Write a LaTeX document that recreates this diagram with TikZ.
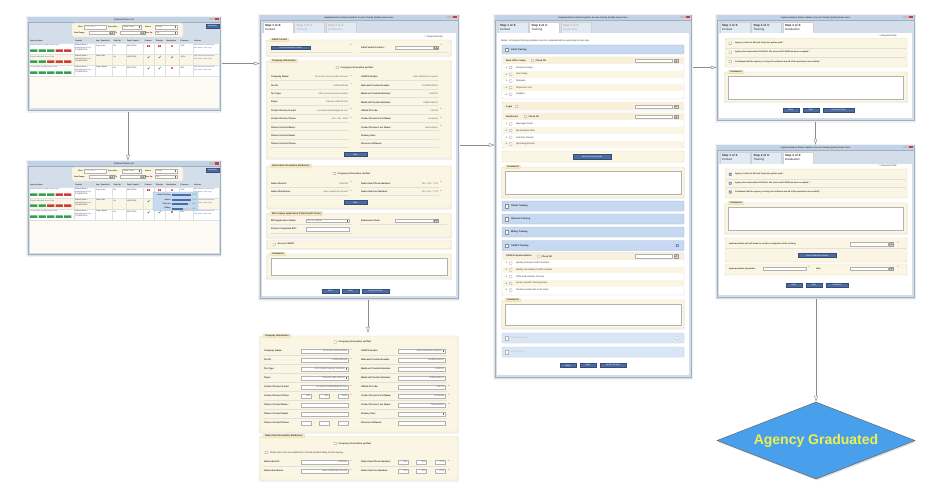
\documentclass[tikz,border=0pt]{standalone}
\usepackage{fontspec}
\setmainfont{Liberation Sans}
\usetikzlibrary{arrows.meta,fit,shapes.geometric,shadows}

\definecolor{frameC}{HTML}{D3DEEA}
\definecolor{frameD}{HTML}{9EAFC2}
\definecolor{titleC}{HTML}{C2D3E8}
\definecolor{creamC}{HTML}{FBF6E4}
\definecolor{creamD}{HTML}{E6DAB0}
\definecolor{legC}{HTML}{F6EBC8}
\definecolor{hrowC}{HTML}{F8F0DA}
\definecolor{btnC}{HTML}{4C6CA6}
\definecolor{barC}{HTML}{C6D9F1}
\definecolor{barD}{HTML}{9BB6DB}
\definecolor{reqC}{HTML}{D62020}
\definecolor{linkC}{HTML}{4A63B5}
\definecolor{okC}{HTML}{37A050}
\definecolor{badC}{HTML}{CF3B3B}
\definecolor{diaC}{HTML}{48A0EC}
\definecolor{diaT}{HTML}{F3EF4B}
\definecolor{tabC}{HTML}{E2EAF4}
\definecolor{hdrC}{HTML}{D3DDE9}

\tikzset{
 tx/.style={inner sep=0pt, outer sep=0pt, font=\fontsize{2.3}{2.6}\selectfont, text=black!80},
 lt/.style={tx, anchor=west},
 lb/.style={tx, anchor=west, font=\fontsize{2.3}{2.6}\selectfont\bfseries},
 lbs/.style={tx, anchor=west, font=\fontsize{2.1}{2.4}\selectfont\bfseries},
 ls/.style={tx, anchor=west, font=\fontsize{1.9}{2.2}\selectfont},
 lsb/.style={tx, anchor=west, font=\fontsize{1.9}{2.2}\selectfont\bfseries},
 lact/.style={tx, anchor=west, font=\fontsize{1.7}{2}\selectfont, text=linkC},
 vl/.style={tx, anchor=east, text=black!65, font=\fontsize{2.2}{2.5}\selectfont},
 sv/.style={tx, anchor=west, text=black!65, font=\fontsize{2.1}{2.4}\selectfont},
 rq/.style={tx, text=reqC, font=\fontsize{3.2}{3.2}\selectfont},
 sec/.style={draw=creamD, fill=creamC, rounded corners=1pt, line width=0.4pt},
 wbox/.style={draw=black!18, fill=white, rounded corners=1pt, line width=0.4pt},
 lgd/.style={tx, anchor=west, draw=creamD, fill=legC, rounded corners=0.8pt, inner xsep=2pt, inner ysep=0.8pt, font=\fontsize{2.3}{2.6}\selectfont\bfseries},
 inb/.style={draw=black!30, fill=white, line width=0.3pt},
 cbx/.style={draw=black!45, fill=white, line width=0.3pt, rounded corners=0.3pt},
 btnbox/.style={draw=btnC!70!black, fill=btnC, line width=0.3pt},
 btntx/.style={tx, text=white, font=\fontsize{2.1}{2.4}\selectfont},
 sepl/.style={draw=black!12, line width=0.3pt},
 arr/.style={draw=black!45, line width=0.45pt, shorten <=1.5pt, -{Triangle[open, length=6pt, width=3.6pt]}},
 dia/.style={diamond, aspect=2.571, draw=black!60, line width=0.5pt, fill=diaC, minimum width=198pt, minimum height=77pt, inner sep=0pt, text=diaT, font=\fontsize{14}{16}\selectfont\bfseries, drop shadow={opacity=0.25, shadow xshift=1pt, shadow yshift=-1.5pt}},
}

\newcommand\dgst{\textcolor{reqC}{\,*}}
\newcommand\dgreq[2]{\node[rq] at (#1,#2) {*};}
\newcommand\dgcb[2]{\draw[cbx] (#1,{#2-1.2}) rectangle ({#1+2.4},{#2+1.2});}
\newcommand\dgcbk[2]{\draw[draw=btnC, fill=barD!60!blue, line width=0.3pt, rounded corners=0.3pt] (#1,{#2-1.2}) rectangle ({#1+2.4},{#2+1.2});
 \draw[white, line width=0.35pt] ({#1+0.5},{#2}) -- ({#1+1},{#2+0.6}) -- ({#1+1.9},{#2-0.7});}
\newcommand\dgcal[2]{\draw[draw=black!40, fill=black!15, line width=0.3pt] (#1,#2) rectangle ({#1+4},{#2+3.6});
 \draw[black!40, line width=0.2pt] ({#1+0.8},{#2+1.8}) -- ({#1+3.2},{#2+1.8}) ({#1+2},{#2+0.8}) -- ({#1+2},{#2+2.8});}
\newcommand\dgbtn[5]{\draw[btnbox] (#1,#2) rectangle (#3,#4); \node[btntx] at ({(#1+#3)/2},{(#2+#4)/2}) {#5};}
\newcommand\dgin[4]{\draw[inb] (#1,{#3-1.8}) rectangle (#2,{#3+1.8}); \node[vl] at ({#2-1},#3) {#4};}
\newcommand\dgsel[4]{\draw[inb] (#1,{#3-1.8}) rectangle (#2,{#3+1.8}); \node[vl] at ({#2-3.5},#3) {#4};
 \fill[black!60] ({#2-2.3},{#3-1}) rectangle ({#2-1.3},{#3+1});}
\newcommand\dgselL[4]{\draw[inb] (#1,{#3-1.8}) rectangle (#2,{#3+1.8}); \node[sv] at ({#1+1.5},#3) {#4};
 \fill[black!60] ({#2-2.3},{#3-1}) rectangle ({#2-1.3},{#3+1});}
\newcommand\dgtrip[5]{\dgin{#1}{#1+10}{#2}{#3}\node[tx] at ({#1+13.5},#2) {-};
 \dgin{#1+18.5}{#1+28.5}{#2}{#4}\node[tx] at ({#1+32.5},#2) {-};
 \dgin{#1+37}{#1+47}{#2}{#5}}
\newcommand\dgsec[5]{\fill[black,opacity=0.05] ({#1-0.8},{#2+0.5}) rectangle ({#3+0.8},{#4+1.5});
 \draw[sec] (#1,#2) rectangle (#3,#4); \node[lgd] at ({#1+3},#2) {#5};}
\newcommand\dgbox[4]{\draw[sec] (#1,#2) rectangle (#3,#4);}
\newcommand\dgfr[5]{\node[lb] at (#1,#3) {#4}; \node[vl] at (#2,#3) {#5};
 \draw[sepl] ({#1-1},{#3+3.3}) -- ({#2+1},{#3+3.3});}
\newcommand\dglab[3]{\node[lb] at (#1,#2) {#3};}
\newcommand\dgtab[6]{\draw[draw=black!18, fill=#3, line width=0.3pt] (#1,{#2+18.5}) -- (#1,{#2+7}) -- ({#1+30},{#2+7}) -- ({#1+30},{#2+18.5});
 \node[lt, font=\fontsize{3}{3.4}\selectfont\bfseries, text=#4] at ({#1+2},{#2+10.7}) {#5};
 \node[lt, font=\fontsize{3}{3.4}\selectfont, text=#4] at ({#1+2},{#2+14.6}) {#6};}
\newcommand\dgwin[6]{%
 \fill[black, opacity=0.05] ({#2-2},{#3-1}) rectangle ({#4+2},{#5+3});
 \fill[black, opacity=0.08] ({#2-1},{#3}) rectangle ({#4+1},{#5+1.5});
 \draw[draw=frameD, fill=frameC, line width=0.4pt] (#2,#3) rectangle (#4,#5);
 \fill[titleC] (#2,#3) rectangle (#4,{#3+5});
 \draw[frameD, line width=0.3pt] (#2,{#3+5}) -- (#4,{#3+5});
 \node[tx, font=\fontsize{2.2}{2.4}\selectfont\bfseries, text=black!75] at ({(#2+#4)/2},{#3+2.5}) {#6};
 \fill[black!25] ({#4-11},{#3+1.3}) rectangle ({#4-8.5},{#3+3.5});
 \fill[black!25] ({#4-8},{#3+1.3}) rectangle ({#4-5.5},{#3+3.5});
 \fill[badC] ({#4-5},{#3+1.3}) rectangle ({#4-1.5},{#3+3.5});
 \node[fit={(#2,#3) (#4,#5)}, inner sep=0pt] (#1) {};}
\newcommand\dgitem[3]{\node[lt] at (505.5,#1) {#2.}; \dgcb{509.5}{#1} \node[lt] at (516,#1) {#3};}
\newcommand\dgbar[4]{\draw[draw=barD, fill=barC, rounded corners=0.8pt, line width=0.4pt] (502,#1) rectangle (684,#2);
 \draw[draw=black!45, fill=white, line width=0.3pt] (505,{(#1+#2)/2-1.7}) rectangle (508,{(#1+#2)/2+1.7});
 \node[lb, text=#4] at (511,{(#1+#2)/2}) {#3};}
\newcommand\dgok[2]{\draw[okC, line width=0.5pt] ({#1-1},{#2}) -- ({#1-0.2},{#2+0.9}) -- ({#1+1.2},{#2-1.2});}
\newcommand\dgno[2]{\fill[badC] ({#1-1.1},{#2-1.1}) rectangle ({#1+1.1},{#2+1.1});
 \draw[white, line width=0.3pt] ({#1-0.6},{#2-0.6}) -- ({#1+0.6},{#2+0.6}) ({#1-0.6},{#2+0.6}) -- ({#1+0.6},{#2-0.6});}
\newcommand\dgbtns[6]{\foreach \cc [count=\ii from 0] in {#2,#3,#4,#5,#6} {\fill[\cc, rounded corners=0.4pt] ({30+8.5*\ii},{#1+6.3}) rectangle ({37.3+8.5*\ii},{#1+8.9});}}
\newcommand\dgrow[5]{%
 \node[ls, text=linkC] at (30,{#1+2.5}) {#2};
 \node[ls] at (75,{#1+2}) {Patient Name /};
 \node[ls, text=linkC] at (75,{#1+4.7}) {patient@gmail.com};
 \node[ls] at (75,{#1+7.4}) {(713)805-4530};
 \node[ls] at (96,{#1+2.5}) {#3};
 \node[ls] at (113.5,{#1+2.5}) {No};
 \node[ls] at (127,{#1+2.5}) {#4};
 \node[ls] at (180.5,{#1+2.5}) {#5};
 \node[lact] at (194,{#1+2.5}) {Edit | Passwrd | Add Notes |};
 \node[lact] at (194,{#1+5}) {View Notes | View Logs};}
\newcommand\dglist[2]{%
 \dgwin{#1}{28}{#2}{220}{#2+93}{Referral Client List}
 \fill[white] (29.5,{#2+21.5}) rectangle (218.5,{#2+91.5});
 \fill[creamC!45] (29.5,{#2+59}) rectangle (218.5,{#2+91.5});
 \fill[creamC] (29.5,{#2+37}) rectangle (218.5,{#2+48});
 \fill[hdrC] (29.5,{#2+21.5}) rectangle (218.5,{#2+26});
 \foreach \xx in {74,95,112,126,143,154,165,179,193} {\draw[sepl] (\xx,{#2+21.5}) -- (\xx,{#2+59});}
 \foreach \yy in {26,37,48,59} {\draw[sepl] (29.5,{#2+\yy}) -- (218.5,{#2+\yy});}
 \draw[sec] (72,{#2+6}) rectangle (183,{#2+20});
 \node[lsb] at (78,{#2+10}) {Filter:};
 \draw[inb] (84,{#2+8.3}) rectangle (106,{#2+11.7});
 \node[ls, text=black!35] at (85.5,{#2+10}) {Filter Name};
 \node[lsb] at (108,{#2+10}) {Specialist:};
 \dgselL{122}{141}{#2+10}{Select User}
 \node[lsb] at (145,{#2+10}) {Status:};
 \dgselL{155}{177}{#2+10}{Active}
 \node[lsb] at (74,{#2+15.7}) {Date Range:};
 \draw[inb] (89,{#2+14}) rectangle (109,{#2+17.4});
 \dgcal{110}{#2+13.9}
 \node[lsb] at (115,{#2+15.7}) {To};
 \draw[inb] (120,{#2+14}) rectangle (140,{#2+17.4});
 \dgcal{141}{#2+13.9}
 \node[lsb] at (145,{#2+15.7}) {Start Up:};
 \dgselL{155}{177}{#2+15.7}{No}
 \dgbtn{206}{#2+7}{219}{#2+11}{Generate}
 \node[lsb] at (30,{#2+23.8}) {Agency Name};
 \node[lsb] at (75,{#2+23.8}) {Contact};
 \node[lsb] at (96,{#2+23.8}) {Imp. Specialist};
 \node[lsb] at (113.5,{#2+23.8}) {Start Up};
 \node[lsb] at (127,{#2+23.8}) {Date Created};
 \node[lsb] at (144.5,{#2+23.8}) {Contact};
 \node[lsb] at (155.5,{#2+23.8}) {Training};
 \node[lsb] at (166,{#2+23.8}) {Graduation};
 \node[lsb] at (180.5,{#2+23.8}) {Progress};
 \node[lsb] at (194,{#2+23.8}) {Actions};
 \dgrow{#2+26}{Access Family Quality Home Care}{John Smith}{06/21/2016}{10\%}
 \dgrow{#2+37}{Texas Dedicated Home Care}{Peter Gray}{06/20/2016}{100\%}
 \dgrow{#2+48}{Access Main Quality Home Care}{Greg Lawson}{06/21/2016}{80\%}
 \dgbtns{#2+26}{okC}{okC}{okC}{badC}{badC}
 \dgbtns{#2+37}{okC}{okC}{badC}{badC}{badC}
 \dgbtns{#2+48}{okC}{okC}{okC}{okC}{okC}
 \dgno{148.5}{#2+29}\dgno{159.5}{#2+29}\dgno{172}{#2+29}
 \dgok{148.5}{#2+40}\dgok{159.5}{#2+40}\dgok{172}{#2+40}
 \dgok{148.5}{#2+51}\dgok{159.5}{#2+51}\dgno{172}{#2+51}}

\begin{document}
\begin{tikzpicture}[x=1pt,y=-1pt]
\useasboundingbox (0,0) rectangle (934,500);
\fill[white] (0,0) rectangle (934,500);

% ===== client lists =====
\dglist{wA}{17}
\dglist{wB}{161}
\draw[draw=barD, fill=barC, rounded corners=0.8pt, line width=0.4pt] (153,192) rectangle (198,210.5);
\foreach \yy/\lab/\fr/\pc in {195/Initial Training/1/100\%, 199.5/Admin/1/100\%, 204/Clinician/0.85/85\%, 208.5/Billing/0.6/60\%} {
 \node[lsb, anchor=east] at (170.5,\yy) {\lab};
 \fill[black!20] (172,{\yy-1}) rectangle (191,{\yy+1});
 \fill[btnC] (172,{\yy-1}) rectangle ({172+19*\fr},{\yy+1});
 \node[ls, text=okC] at (192.3,\yy) {\pc};
}

% ===== step 1 window =====
\dgwin{wC}{260}{15}{458}{298}{Implementation Status Update | Access Family Quality Home Care}
\fill[white] (262,33.5) rectangle (456,296);
\dgtab{263}{15}{white}{black!85}{Step 1 of 3:}{Contact}
\dgtab{294.5}{15}{tabC}{black!30}{Step 2 of 3:}{Training}
\dgtab{326}{15}{tabC}{black!30}{Step 3 of 3:}{Graduation}
\node[lt] at (424,37) {\textcolor{reqC}{*} = Required Field};
\dgsec{267}{40}{451}{56}{Initial Contact}
\dgbtn{271}{45.8}{310}{49.6}{Send Introduction Letter}
\draw[sepl] (270,52.5) -- (352,52.5);
\dgreq{351}{45.5}
\dglab{361}{47.7}{Initial Verbal Contact:}
\draw[inb] (395,45.9) rectangle (433,49.5);
\dgcal{434.5}{45.9}
\dgreq{441.5}{45}
\draw[sepl] (360,52.5) -- (447,52.5);
\dgsec{267}{61}{451}{158}{Company Information}
\dgcb{336}{67.5}
\dglab{340.5}{67.5}{Company information verified}
\dgfr{271}{348}{77}{Company Name:}{1st Access Home Health Services}\dgreq{351}{76}
\dgfr{271}{348}{85.5}{Tax ID:}{100029393456}\dgreq{351}{84.5}
\dgfr{271}{348}{94}{Tax Type:}{SSN (Social Security Number)}
\dgfr{271}{348}{102.3}{Payor:}{Palmetto GBA (11001)}
\dgfr{271}{348}{110.7}{Contact Person E-mail:}{accesshomehealth@gmail.com}\dgreq{351}{109.7}
\dgfr{271}{348}{119}{Contact Person Phone:}{400 - 450 - 5600}\dgreq{351}{118}
\dgfr{271}{348}{127.3}{Trainer Contact Name:}{}
\dgfr{271}{348}{135.7}{Trainer Contact Email:}{}
\dgfr{271}{348}{144}{Trainer Contact Phone:}{}
\dgfr{361}{438}{77}{CAHPS Vendor:}{Deta Satisfaction Experts}
\dgfr{361}{438}{85.5}{National Provider Number:}{1003950004567}
\dgfr{361}{438}{94}{Medicare Provider Number:}{0625000}
\dgfr{361}{438}{102.3}{Medicaid Provider Number:}{909800434100}
\dgfr{361}{438}{110.7}{OASIS ID Code:}{015730}\dgreq{441}{109.7}
\dgfr{361}{438}{119}{Contact Person First Name:}{Annabelle}\dgreq{441}{118}
\dgfr{361}{438}{127.3}{Contact Person Last Name:}{Administrator}\dgreq{441}{126.3}
\dgfr{361}{438}{135.7}{Primary User:}{}
\dgfr{361}{438}{144}{Previous Software:}{}
\dgbtn{344}{152.3}{367}{156.3}{Edit}
\dgsec{267}{166}{451}{208}{Subscriber Information (Medicare)}
\dgcb{333}{173.5}
\dglab{337.5}{173.5}{Company information verified}
\dgfr{271}{348}{183.5}{Subscriber ID:}{0402450}\dgreq{351}{182.5}
\dgfr{271}{348}{192}{Subscriber Name:}{Avee Healthcare Consult}\dgreq{351}{191}
\dgfr{361}{438}{183.5}{Subscriber Phone Number:}{214 - 876 - 7711}\dgreq{441}{182.5}
\dgfr{361}{438}{192}{Subscriber Fax Number:}{214 - 876 - 7722}\dgreq{441}{191}
\dgbtn{344}{200.3}{367}{204.3}{Edit}
\dgsec{267}{213.5}{451}{237}{EDI Linkage Application (Filled by EDI Team)}
\dglab{271}{220.5}{EDI Application Status:}
\dgselL{306}{349}{220.5}{Not Yet Started}
\dglab{271}{229}{Person Completed EDI:}
\dgin{306}{349}{229}{}
\dglab{361}{220.5}{Submission Date:}
\dgin{395}{433}{220.5}{}
\dgcal{434.5}{218.7}
\draw[sepl] (270,224.5) -- (352,224.5);
\draw[sepl] (270,233) -- (352,233);
\draw[sepl] (360,224.5) -- (447,224.5);
\fill[black,opacity=0.05] (266.2,240.5) rectangle (451.8,250);
\dgbox{267}{240}{451}{248.5}
\dgcb{273}{244.2}
\dglab{277.5}{244.2}{Access CAHPS}
\dgsec{267}{254}{451}{278}{Comments}
\draw[inb] (271,258.5) rectangle (447,275);
\dgbtn{322}{289}{339}{293}{Back}
\dgbtn{342}{289}{359}{293}{Save}
\dgbtn{362}{289}{389}{293}{Verify and Next}

% ===== editable company panel =====
\dgsec{260}{336}{458}{432}{Company Information}
\dgcb{334}{342}
\dglab{338.5}{342}{Company information verified}
\foreach \yy in {354.8,363.8,372.8,381.8,390.8,399.8,408.8,417.8} {\draw[sepl] (263,\yy) -- (350,\yy); \draw[sepl] (360,\yy) -- (447,\yy);}
\dglab{264}{351}{Company Name:}\dgin{301}{348}{351}{1st Access Home Health}\dgreq{351}{350}
\dglab{264}{360}{Tax ID:}\dgin{301}{348}{360}{100029393456}\dgreq{351}{359}
\dglab{264}{369}{Tax Type:}\dgsel{301}{348}{369}{SSN (Social Security Number)}
\dglab{264}{378}{Payor:}\dgsel{301}{348}{378}{Palmetto GBA (11001)}
\dglab{264}{387}{Contact Person E-mail:}\dgin{301}{348}{387}{accesshomehealth@gmail.com}\dgreq{351}{386}
\dglab{264}{396}{Contact Person Phone:}\dgtrip{301}{396}{400}{450}{5600}\dgreq{351}{395}
\dglab{264}{405}{Trainer Contact Name:}\dgin{301}{348}{405}{}
\dglab{264}{414}{Trainer Contact Email:}\dgin{301}{348}{414}{}
\dglab{264}{423}{Trainer Contact Phone:}\dgtrip{301}{423}{}{}{}
\dglab{361}{351}{CAHPS Vendor:}\dgsel{398}{445}{351}{Deta Satisfaction Experts}
\dglab{361}{360}{National Provider Number:}\dgin{398}{445}{360}{1003950004567}
\dglab{361}{369}{Medicare Provider Number:}\dgin{398}{445}{369}{0625000}
\dglab{361}{378}{Medicaid Provider Number:}\dgin{398}{445}{378}{909800434100}
\dglab{361}{387}{OASIS ID Code:}\dgin{398}{445}{387}{015730}\dgreq{449}{386}
\dglab{361}{396}{Contact Person First Name:}\dgin{398}{445}{396}{Annabelle}\dgreq{449}{395}
\dglab{361}{405}{Contact Person Last Name:}\dgin{398}{445}{405}{Administrator}\dgreq{449}{404}
\dglab{361}{414}{Primary User:}\dgsel{398}{445}{414}{}
\dglab{361}{423}{Previous Software:}\dgin{398}{445}{423}{}
\dgsec{260}{436}{458}{480}{Subscriber Information (Medicare)}
\dgcb{334}{443.5}
\dglab{338.5}{443.5}{Company information verified}
\dgcb{265}{452.5}
\node[lt] at (270,452.5) {Check here if Access HealthCare Consult handles billing for this Agency};
\draw[sepl] (263,465.8) -- (350,465.8);
\draw[sepl] (360,465.8) -- (447,465.8);
\dglab{264}{462}{Subscriber ID:}\dgin{301}{348}{462}{0402450}\dgreq{351}{461}
\dglab{264}{471}{Subscriber Name:}\dgin{301}{348}{471}{Avee Healthcare Consult}\dgreq{351}{470}
\dglab{361}{462}{Subscriber Phone Number:}\dgtrip{398}{462}{214}{876}{7711}\dgreq{449}{461}
\dglab{361}{471}{Subscriber Fax Number:}\dgtrip{398}{471}{214}{876}{7722}\dgreq{449}{470}
\node[fit={(260,333) (458,480)}, inner sep=0pt] (pD) {};

% ===== step 2 window =====
\dgwin{wE}{495}{15}{691}{377}{Implementation Status Update | Access Family Quality Home Care}
\fill[white] (497,33.5) rectangle (689,375);
\dgtab{498}{15}{tabC}{black!85}{Step 1 of 3:}{Contact}
\dgtab{529.5}{15}{white}{black!85}{Step 2 of 3:}{Training}
\dgtab{561}{15}{tabC}{black!30}{Step 3 of 3:}{Graduation}
\node[lt] at (501,41) {Notice: All required training modules must be completed before advancing to next step.};
\dgbar{45}{54}{Initial Training}{black!85}
\draw[wbox] (502,57) rectangle (684,99);
\fill[hrowC] (502.5,57.5) rectangle (683.5,64);
\fill[creamC] (502.5,71) rectangle (683.5,77.7);
\fill[creamC] (502.5,84.3) rectangle (683.5,91);
\dglab{506}{60.7}{Back Office Setup}
\dgcb{531.5}{60.7}
\dglab{535.5}{60.7}{Check All}
\dgin{635}{672}{60.7}{}
\dgcal{674}{58.9}
\dgitem{67.5}{1}{Insurance Setup}
\dgitem{74.3}{2}{User Setup}
\dgitem{81}{3}{Template}
\dgitem{87.7}{4}{Physician's List}
\dgitem{94.3}{5}{Supplies}
\draw[wbox] (502,102) rectangle (684,111);
\fill[hrowC] (502.5,102.5) rectangle (683.5,110.5);
\dglab{506}{106.5}{Login}
\dgcb{515.5}{106.5}
\dgin{635}{672}{106.5}{}
\dgcal{674}{104.7}
\draw[wbox] (502,113) rectangle (684,148);
\fill[hrowC] (502.5,113.5) rectangle (683.5,120);
\fill[creamC] (502.5,127.3) rectangle (683.5,134);
\fill[creamC] (502.5,140.6) rectangle (683.5,147.5);
\dglab{506}{116.7}{Dashboard}
\dgcb{524.5}{116.7}
\dglab{528.5}{116.7}{Check All}
\dgin{635}{672}{116.7}{}
\dgcal{674}{114.9}
\dgitem{124}{1}{Message Center}
\dgitem{130.7}{2}{My Schedule Task}
\dgitem{137.3}{3}{Past Due Record}
\dgitem{144}{4}{Upcoming Record}
\dgbox{502}{151}{684}{162}
\dgbtn{573}{154.3}{611}{158.7}{Send Follow-up Email}
\dgsec{502}{167}{684}{197}{Comments}
\draw[inb] (505,171) rectangle (681,194);
\dgbar{201}{211}{Admin Training}{black!85}
\dgbar{214}{224}{Clinician Training}{black!85}
\dgbar{227}{237}{Billing Training}{black!85}
\dgbar{240.5}{250.5}{CAHPS Training}{black!85}
\dgcbk{676}{245.5}
\draw[wbox] (502,252.5) rectangle (684,295);
\fill[hrowC] (502.5,253) rectangle (683.5,259.5);
\fill[creamC] (502.5,266.5) rectangle (683.5,273.3);
\fill[creamC] (502.5,280) rectangle (683.5,286.7);
\dglab{506}{256.2}{CAHPS Implementation}
\dgcb{537.5}{256.2}
\dglab{541.5}{256.2}{Check All}
\dgin{635}{672}{256.2}{}
\dgcal{674}{254.4}
\dgitem{263}{1}{Identify Primary CAHPS Contact}
\dgitem{270}{2}{Identify Secondary CAHPS Contact}
\dgitem{276.7}{3}{CMS Authorization Process}
\dgitem{283.3}{4}{Access CAHPS Training Video}
\dgitem{290}{5}{Provide contact info to the client}
\dgsec{502}{300}{684}{328}{Comments}
\draw[inb] (505,304) rectangle (681,325.5);
\dgbar{333}{343}{OASIS Training}{black!35}
\dgcb{676}{338}
\dgbar{347}{357}{EDI Training}{black!35}
\dgcb{676}{352}
\fill[white, opacity=0.35] (502,333) rectangle (684,357);
\dgbtn{560}{363}{576}{367.5}{Back}
\dgbtn{580}{363}{596}{367.5}{Save}
\dgbtn{600}{363}{626}{367.5}{Verify and Next}

% ===== step 3 window (empty) =====
\dgwin{wF}{717}{15}{914}{120}{Implementation Status Update | Access Family Quality Home Care}
\fill[white] (719,33.5) rectangle (912,118);
\dgtab{720}{15}{tabC}{black!85}{Step 1 of 3:}{Contact}
\dgtab{751.5}{15}{tabC}{black!85}{Step 2 of 3:}{Training}
\dgtab{783}{15}{white}{black!85}{Step 3 of 3:}{Graduation}
\node[lt] at (878,35.5) {\textcolor{reqC}{*} = Required Field};
\dgbox{725}{38.5}{907}{67}
\draw[sepl] (726,47.7) -- (906,47.7);
\draw[sepl] (726,57) -- (906,57);
\dgcb{729}{43.2}
\node[lbs] at (735,43.2) {Agency is able to bill and they have gotten paid\dgst};
\dgcb{729}{52.3}
\node[lbs] at (735,52.3) {Agency has transmitted OASIS to the state and OASIS has been accepted\dgst};
\dgcb{729}{61.5}
\node[lbs] at (735,61.5) {Confirmed that the agency is using the software and all of the products successfully\dgst};
\dgsec{725}{72}{907}{102}{Comments}
\draw[inb] (728,76) rectangle (903,99);
\dgbtn{783}{107.7}{799}{112}{Back}
\dgbtn{803}{107.7}{819}{112}{Save}
\dgbtn{823}{107.7}{854}{112}{Verify and Next}

% ===== step 3 window (checked) =====
\dgwin{wG}{717}{145}{914}{297}{Implementation Status Update | Access Family Quality Home Care}
\fill[white] (719,163.5) rectangle (912,295);
\dgtab{720}{145}{tabC}{black!85}{Step 1 of 3:}{Contact}
\dgtab{751.5}{145}{tabC}{black!85}{Step 2 of 3:}{Training}
\dgtab{783}{145}{white}{black!85}{Step 3 of 3:}{Graduation}
\node[lt] at (878,166) {\textcolor{reqC}{*} = Required Field};
\dgbox{725}{169}{907}{198}
\draw[sepl] (726,178.7) -- (906,178.7);
\draw[sepl] (726,187.5) -- (906,187.5);
\dgcbk{729}{174.3}
\node[lbs] at (735,174.3) {Agency is able to bill and they have gotten paid\dgst};
\dgcbk{729}{183.2}
\node[lbs] at (735,183.2) {Agency has transmitted OASIS to the state and OASIS has been accepted\dgst};
\dgcbk{729}{192}
\node[lbs] at (735,192) {Confirmed that the agency is using the software and all of the products successfully\dgst};
\dgsec{725}{203}{907}{233}{Comments}
\draw[inb] (728,207.5) rectangle (903,230.5);
\dgbox{725}{238}{907}{262}
\node[lbs] at (729,244) {Implementation will call made to confirm completion of the training};
\dgin{850}{888}{244}{}
\dgcal{889.5}{242.2}
\dgreq{898}{243}
\draw[sepl] (726,248.5) -- (906,248.5);
\dgbtn{798}{253}{836}{257.5}{Send Graduation Email}
\dgbox{725}{264}{907}{275}
\node[lbs] at (729,268.5) {Implementation Specialist:};
\dgin{763}{806}{268.5}{}
\dgreq{809}{267.5}
\node[lbs] at (816,268.5) {Date:};
\dgin{850}{888}{268.5}{}
\dgcal{889.5}{266.7}
\dgreq{898}{267.5}
\dgbtn{786}{282.7}{802}{287}{Back}
\dgbtn{806}{282.7}{822}{287}{Save}
\dgbtn{826}{282.7}{848}{287}{Graduate}

% ===== end state =====
\node[dia] (dia) at (816,440.5) {Agency Graduated};

% ===== connectors =====
\draw[arr] ([xshift=4pt]wA.south) -- ([xshift=4pt]wB.north);
\draw[arr] (wA.east) -- (wA.east -| wC.west);
\draw[arr] ([xshift=9pt]wC.south) -- ([xshift=9pt]wC.south |- pD.north);
\draw[arr] ([yshift=11.5pt]wC.east) -- ([yshift=11.5pt]wC.east -| wE.west);
\draw[arr] (wF.west -| wE.east) -- (wF.west);
\draw[arr] (wF.south) -- (wG.north);
\draw[arr] (dia.north |- wG.south) -- (dia.north);
\end{tikzpicture}
\end{document}
